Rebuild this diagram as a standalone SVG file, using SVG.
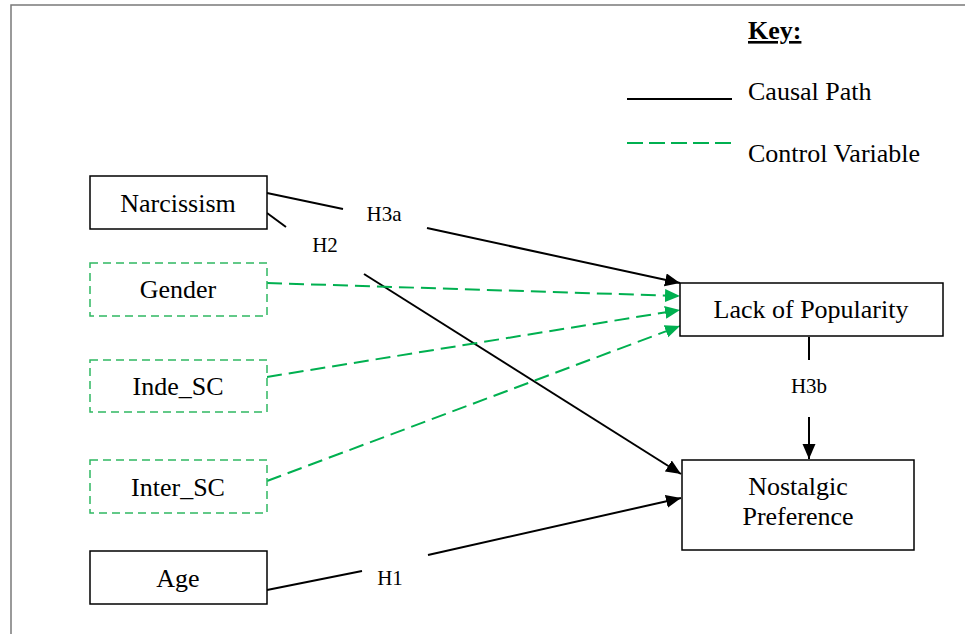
<svg xmlns="http://www.w3.org/2000/svg" width="965" height="634" viewBox="0 0 965 634">
<defs>
<style>
.t{font-family:"Liberation Serif","Times New Roman",serif;font-size:26px;fill:#000;text-anchor:middle}
.s{font-family:"Liberation Serif","Times New Roman",serif;font-size:21px;fill:#000;text-anchor:middle}
.k{font-family:"Liberation Serif","Times New Roman",serif;font-size:26px;fill:#000}
.box{fill:#fff;stroke:#000;stroke-width:1.5}
.cbox{fill:#fff;stroke:#2fb862;stroke-width:1.5;stroke-dasharray:8 5}
.c{stroke:#000;stroke-width:2;fill:none}
.g{stroke:#00b050;stroke-width:2;fill:none;stroke-dasharray:15 7}
</style>
<marker id="ab" markerUnits="userSpaceOnUse" markerWidth="16" markerHeight="14" refX="15" refY="6.5" orient="auto"><path d="M0,0 L15,6.5 L0,13 z" fill="#000"/></marker>
<marker id="ag" markerUnits="userSpaceOnUse" markerWidth="16" markerHeight="14" refX="15" refY="6.5" orient="auto"><path d="M0,0 L15,6.5 L0,13 z" fill="#00b050"/></marker>
</defs>
<rect width="965" height="634" fill="#fff"/>
<path d="M11,634 V5 H965" fill="none" stroke="#7a7a7a" stroke-width="1.5"/>

<g id="key">
<text class="k" x="748" y="39" font-weight="bold" text-decoration="underline">Key:</text>
<line x1="627" y1="99" x2="732" y2="99" stroke="#000" stroke-width="2"/>
<text class="k" x="748" y="100">Causal Path</text>
<line x1="627" y1="143" x2="731" y2="143" stroke="#00b050" stroke-width="2" stroke-dasharray="16 6"/>
<text class="k" x="748" y="162">Control Variable</text>
</g>

<g id="connectors">
<path class="c" d="M267,193 L343,209"/>
<path class="c" d="M427,228 L680,283" marker-end="url(#ab)"/>
<path class="c" d="M267,213 L286,227"/>
<path class="c" d="M364,274 L681,474" marker-end="url(#ab)"/>
<path class="c" d="M267,590 L362,571"/>
<path class="c" d="M428,555 L681,498" marker-end="url(#ab)"/>
<path class="c" d="M809,337 L809,360"/>
<path class="c" d="M809,417 L809,459" marker-end="url(#ab)"/>
<path class="g" d="M267,283 L680,296" marker-end="url(#ag)"/>
<path class="g" d="M267,377 L680,310" marker-end="url(#ag)"/>
<path class="g" d="M267,481 L680,326" marker-end="url(#ag)"/>
<text class="s" x="384" y="221">H3a</text>
<text class="s" x="325" y="252">H2</text>
<text class="s" x="390" y="585">H1</text>
<text class="s" x="809" y="393">H3b</text>
</g>

<g id="narcissism"><rect class="box" x="90" y="176" width="177" height="53"/><text class="t" x="178" y="212">Narcissism</text></g>
<g id="gender"><rect class="cbox" x="90" y="263" width="177" height="53"/><text class="t" x="178" y="298">Gender</text></g>
<g id="inde_sc"><rect class="cbox" x="90" y="360" width="177" height="52"/><text class="t" x="178" y="395">Inde_SC</text></g>
<g id="inter_sc"><rect class="cbox" x="90" y="460" width="177" height="53"/><text class="t" x="178" y="496">Inter_SC</text></g>
<g id="age"><rect class="box" x="90" y="551" width="177" height="53"/><text class="t" x="178" y="587">Age</text></g>
<g id="lack"><rect class="box" x="680" y="283" width="263" height="53"/><text class="t" x="811" y="318">Lack of Popularity</text></g>
<g id="nostalgic"><rect class="box" x="682" y="460" width="232" height="90"/><text class="t" x="798" y="495">Nostalgic</text><text class="t" x="798" y="525">Preference</text></g>
</svg>
